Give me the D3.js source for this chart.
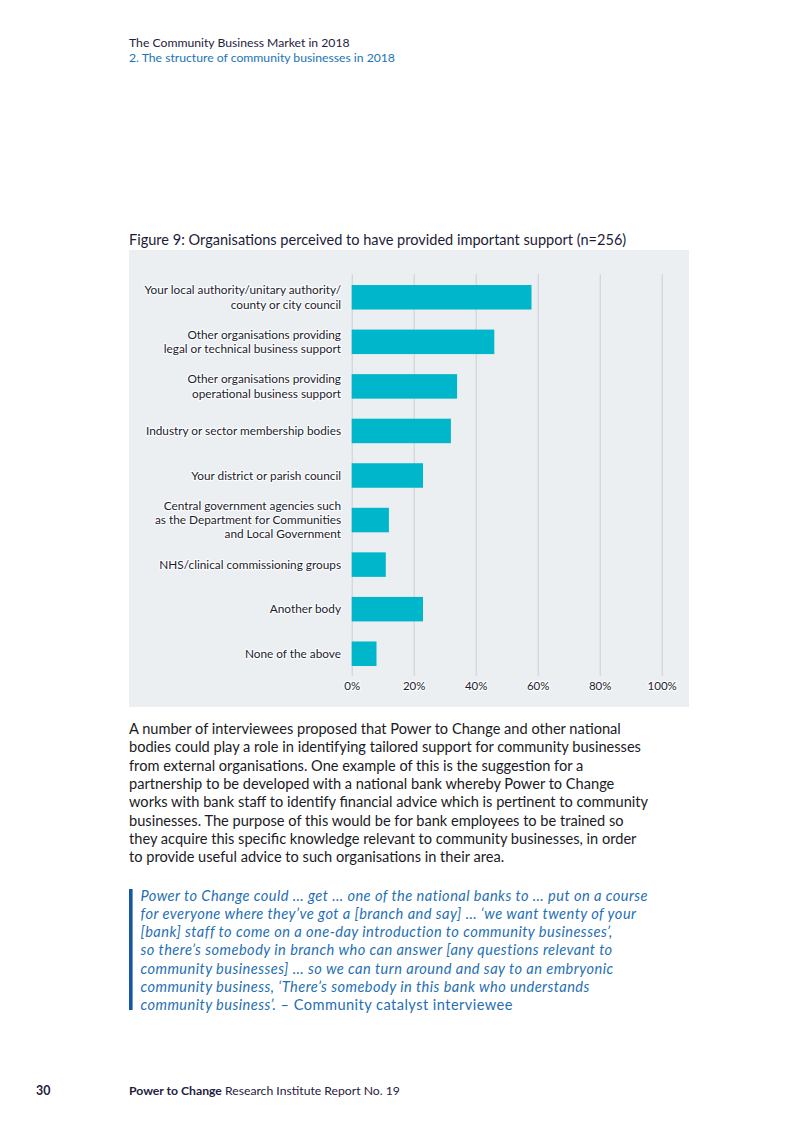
<!DOCTYPE html>
<html><head><meta charset="utf-8">
<script src="https://cdn.jsdelivr.net/npm/d3@7"></script>
<style>
body{margin:0;background:#fff}
svg{display:block}
text{font-family:Lato, "Open Sans", sans-serif}
text.quote{letter-spacing:0.45px}
</style>
</head><body>
<svg id="page" width="800" height="1132"></svg>
<script>
// ---- data ----
const categories = [
  "Your local authority/unitary authority/\ncounty or city council",
  "Other organisations providing\nlegal or technical business support",
  "Other organisations providing\noperational business support",
  "Industry or sector membership bodies",
  "Your district or parish council",
  "Central government agencies such\nas the Department for Communities\nand Local Government",
  "NHS/clinical commissioning groups",
  "Another body",
  "None of the above"
];
const values = [58, 46, 34, 32, 23, 12, 11, 23, 8];
const xTicks = [0, 20, 40, 60, 80, 100];

const headerLines = ["The Community Business Market in 2018", "2. The structure of community businesses in 2018"];
const chartTitle = "Figure 9: Organisations perceived to have provided important support (n=256)";
const bodyLines = [
  "A number of interviewees proposed that Power to Change and other national",
  "bodies could play a role in identifying tailored support for community businesses",
  "from external organisations. One example of this is the suggestion for a",
  "partnership to be developed with a national bank whereby Power to Change",
  "works with bank staff to identify financial advice which is pertinent to community",
  "businesses. The purpose of this would be for bank employees to be trained so",
  "they acquire this specific knowledge relevant to community businesses, in order",
  "to provide useful advice to such organisations in their area."
];
const quoteLines = [
  "Power to Change could … get … one of the national banks to … put on a course",
  "for everyone where they’ve got a [branch and say] … ‘we want twenty of your",
  "[bank] staff to come on a one-day introduction to community businesses’,",
  "so there’s somebody in branch who can answer [any questions relevant to",
  "community businesses] … so we can turn around and say to an embryonic",
  "community business, ‘There’s somebody in this bank who understands",
  "community business’."
];
const quoteAttribution = " – Community catalyst interviewee";
const footerPage = "30";
const footerBold = "Power to Change";
const footerRest = " Research Institute Report No. 19";

// ---- drawing ----
const svg = d3.select("#page");
const navy = "#1f2142", blue = "#1b74b8";

// header
svg.append("text").attr("x", 129).attr("y", 46.5).attr("font-size", 12.2).attr("fill", navy).text(headerLines[0]);
svg.append("text").attr("x", 129).attr("y", 61.5).attr("font-size", 12.2).attr("fill", blue).text(headerLines[1]);

// chart title
svg.append("text").attr("x", 129).attr("y", 245).attr("font-size", 14.55).attr("fill", "#1c1c38").text(chartTitle);

// panel
svg.append("rect").attr("x", 129).attr("y", 250).attr("width", 560).attr("height", 457).attr("fill", "#ebeff2");

const x = d3.scaleLinear().domain([0, 100]).range([351.7, 661.7]);
const y = d3.scaleBand().domain(categories).range([275, 676]).paddingInner(0.45).paddingOuter(0.225);

const halo = sel => sel.attr("stroke", "#ffffff").attr("stroke-width", 2.5).attr("stroke-opacity", 0.75)
  .attr("stroke-linejoin", "round").attr("paint-order", "stroke");

// grid + axis
const axis = svg.append("g").attr("transform", "translate(0,676)")
  .call(d3.axisBottom(x).tickValues(xTicks).tickFormat(d => d + "%").tickSize(-402).tickPadding(6));
axis.select(".domain").remove();
axis.selectAll(".tick line").attr("stroke", "#c9d0d6").attr("stroke-width", 1);
axis.selectAll(".tick text").attr("font-size", 11.5).attr("fill", "#1c1c30").call(halo);

// bars
svg.append("g").selectAll("rect").data(values).join("rect")
  .attr("x", x(0))
  .attr("y", (d, i) => y(categories[i]))
  .attr("width", d => x(d) - x(0))
  .attr("height", y.bandwidth())
  .attr("fill", "#00b6ca");

// category labels
const lab = svg.append("g").selectAll("text").data(categories).join("text")
  .attr("text-anchor", "end")
  .attr("font-size", 11.8)
  .attr("fill", "#1c1c30")
  .call(halo);
lab.each(function (d) {
  const lines = d.split("\n");
  const cy = y(d) + y.bandwidth() / 2;
  const lh = 14.3;
  const t = d3.select(this);
  lines.forEach((l, k) => {
    t.append("tspan").attr("x", 341).attr("y", cy + (k - (lines.length - 1) / 2) * lh).attr("dy", "0.35em").text(l);
  });
});

// body paragraph
svg.append("g").selectAll("text").data(bodyLines).join("text")
  .attr("x", 129).attr("y", (d, i) => 734 + i * 18.3)
  .attr("font-size", 14.6).attr("fill", "#1a1a24").text(d => d);

// quote
svg.append("rect").attr("x", 129).attr("y", 889).attr("width", 3.6).attr("height", 121).attr("fill", "#1757a2");
const q = svg.append("g").selectAll("text").data(quoteLines).join("text")
  .attr("class", "quote")
  .attr("x", 140.5).attr("y", (d, i) => 900.5 + i * 18.3)
  .attr("font-size", 14.6).attr("fill", "#1f6fb4").attr("font-style", "italic").text(d => d);
q.filter((d, i) => i === quoteLines.length - 1).append("tspan").attr("font-style", "normal").text(quoteAttribution);

// footer
svg.append("text").attr("x", 36).attr("y", 1094.5).attr("font-size", 12.4).attr("font-weight", "bold").attr("fill", navy).text(footerPage);
const f = svg.append("text").attr("x", 129).attr("y", 1094.5).attr("font-size", 12.2).attr("fill", navy);
f.append("tspan").attr("font-weight", "bold").text(footerBold);
f.append("tspan").text(footerRest);
</script>
</body></html>
